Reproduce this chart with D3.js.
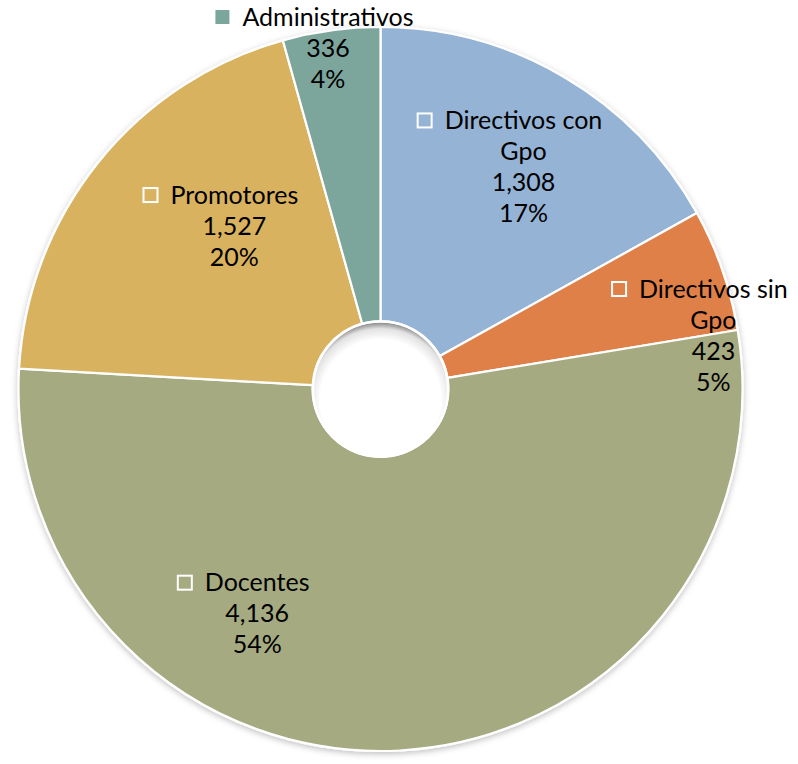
<!DOCTYPE html>
<html>
<head>
<meta charset="utf-8">
<script src="https://cdn.jsdelivr.net/npm/d3@7"></script>
<style>
  html, body { margin: 0; padding: 0; background: #ffffff; }
  svg { display: block; }
  text { font-family: Lato, "Noto Sans", sans-serif; fill: #000; }
</style>
</head>
<body>
<svg id="chart" width="798" height="764"></svg>
<script>
// ---- data ----
const categories = ["Directivos con Gpo", "Directivos sin Gpo", "Docentes", "Promotores", "Administrativos"];
const values = [1308, 423, 4136, 1527, 336];
const colors = ["#95B3D5", "#E0804A", "#A5AA81", "#D9B25F", "#7BA69C"];

// ---- layout ----
const W = 798, H = 764;
const cx = 380.5, cy = 389, R = 362, r0 = 68;
const fontSize = 25, lineH = 31, wrapWidth = 182;
const keySize = 14, keyGap = 13;
// label placement: offsets from label-arc centroid
const labelRadius = 217;
const labelOffsets = {
  "Directivos con Gpo": [33, -35],
  "Directivos sin Gpo": [128, 18],
  "Docentes": [-135, 8],
  "Promotores": [23, -27],
  "Administrativos": [-23, -126]
};
const outsideLabel = "Administrativos";

const svg = d3.select("#chart");
const defs = svg.append("defs");

const f = defs.append("filter").attr("id", "shadow").attr("x", "-10%").attr("y", "-10%").attr("width", "120%").attr("height", "120%");
f.append("feDropShadow").attr("dx", 0).attr("dy", 2).attr("stdDeviation", 3).attr("flood-color", "#000").attr("flood-opacity", 0.25);

const rg = defs.append("radialGradient").attr("id", "holeGrad").attr("cx", "50%").attr("cy", "58%").attr("r", "58%");
rg.append("stop").attr("offset", "0.78").attr("stop-color", "#ffffff");
rg.append("stop").attr("offset", "0.92").attr("stop-color", "#e2e2e2");
rg.append("stop").attr("offset", "1").attr("stop-color", "#8a8a8a");

const data = categories.map((c, i) => ({ name: c, value: values[i], color: colors[i] }));
const total = d3.sum(values);

const pie = d3.pie().value(d => d.value).sort(null);
const arcs = pie(data);
const arc = d3.arc().innerRadius(r0).outerRadius(R);
const labelArc = d3.arc().innerRadius(labelRadius).outerRadius(labelRadius);

const g = svg.append("g").attr("transform", `translate(${cx},${cy})`);

g.append("g").attr("filter", "url(#shadow)")
  .selectAll("path").data(arcs).join("path")
  .attr("d", arc)
  .attr("fill", d => d.data.color)
  .attr("stroke", "#ffffff")
  .attr("stroke-width", 2.2)
  .attr("stroke-linejoin", "round");

// hole with inner shading
g.append("circle").attr("r", r0 - 1.5).attr("fill", "url(#holeGrad)");
g.append("circle").attr("r", r0 - 0.5).attr("fill", "none").attr("stroke", "#ffffff").attr("stroke-width", 2.5);

const fmt = d3.format(",");
const pct = v => Math.round(v / total * 100) + "%";

const measure = svg.append("text").attr("font-size", fontSize).attr("visibility", "hidden");
function textW(s) { measure.text(s); return measure.node().getComputedTextLength(); }
function wrap(s) {
  const words = s.split(" ");
  const lines = [];
  let cur = "";
  words.forEach(w => {
    const t = cur ? cur + " " + w : w;
    if (textW(t) > wrapWidth && cur) { lines.push(cur); cur = w; } else cur = t;
  });
  if (cur) lines.push(cur);
  return lines;
}

const labels = g.append("g");
arcs.forEach(a => {
  const name = a.data.name;
  const nameLines = wrap(name);
  const lines = nameLines.concat([fmt(a.data.value), pct(a.data.value)]);
  const c = labelArc.centroid(a);
  const off = labelOffsets[name];
  const lx = c[0] + off[0], ly = c[1] + off[1];
  const y0 = ly - (lines.length - 1) * lineH / 2;
  const lg = labels.append("g");
  lines.forEach((t, i) => {
    lg.append("text")
      .attr("x", lx).attr("y", y0 + i * lineH)
      .attr("dy", "0.35em")
      .attr("text-anchor", "middle")
      .attr("font-size", fontSize)
      .text(t);
  });
  const w0 = textW(nameLines[0]);
  const kx = lx - w0 / 2 - keyGap - keySize;
  const outside = name === outsideLabel;
  lg.append("rect")
    .attr("x", kx).attr("y", y0 - keySize / 2)
    .attr("width", keySize).attr("height", keySize)
    .attr("fill", outside ? a.data.color : "none")
    .attr("stroke", outside ? "none" : "#ffffff")
    .attr("stroke-width", 2);
});
measure.remove();
</script>
</body>
</html>
